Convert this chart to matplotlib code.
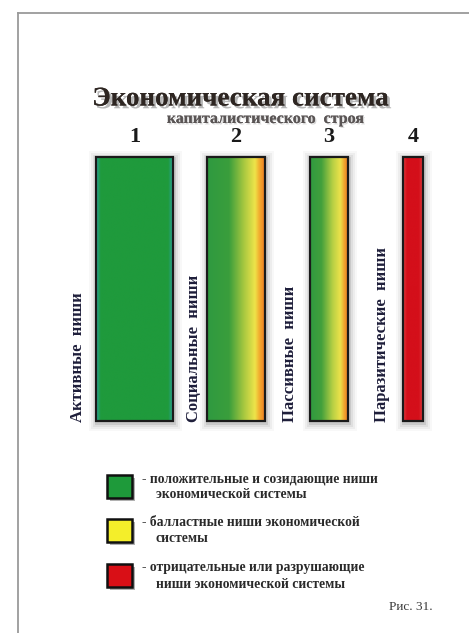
import numpy as np
import matplotlib
matplotlib.use("Agg")
import matplotlib.pyplot as plt
import matplotlib.patheffects as pe
from matplotlib.colors import LinearSegmentedColormap
from matplotlib.patches import Rectangle

# ---- data ----
numbers = ["1", "2", "3", "4"]
niche_labels = ["Активные  ниши", "Социальные  ниши", "Пассивные  ниши", "Паразитические  ниши"]
niche_widths = [77, 58, 38, 20]
niche_heights = [264, 264, 264, 264]
title = "Экономическая система"
subtitle = "капиталистического  строя"
legend_texts = [
    ["- положительные и созидающие ниши", "экономической системы"],
    ["- балластные ниши экономической", "системы"],
    ["- отрицательные или разрушающие", "ниши экономической системы"],
]
legend_colors = ["#1e9a3a", "#f4ee2a", "#d90f16"]
caption = "Рис. 31."

# gradient colour stops per bar (position, colour)
bar_gradients = [
    [(0.0, "#2aa39a"), (0.06, "#1f9a3c"), (0.94, "#1f9a3c"), (1.0, "#2aa39a")],
    [(0.0, "#2f9a40"), (0.38, "#3a9e3c"), (0.64, "#a8c840"), (0.83, "#eee44a"), (0.9, "#f2b030"), (1.0, "#ee7a20")],
    [(0.0, "#2f9a40"), (0.3, "#42a03c"), (0.6, "#b8d044"), (0.8, "#ece24a"), (0.9, "#f0a830"), (1.0, "#ee7a20")],
    [(0.0, "#e04040"), (0.2, "#d40f1a"), (0.8, "#d40f1a"), (1.0, "#e04040")],
]

W, H = 469, 633
fig = plt.figure(figsize=(W / 100, H / 100), dpi=100)
ax = fig.add_axes([0, 0, 1, 1])
ax.set_xlim(0, W)
ax.set_ylim(H, 0)
ax.axis("off")

serif = ["Liberation Serif", "DejaVu Serif"]

# frame
ax.plot([17.5, 17.5], [H, 12.5], color="#9a9a9a", lw=1.3)
ax.plot([17.5, W], [12.5, 12.5], color="#9a9a9a", lw=1.3)

# title with shadow
shadow = [pe.withSimplePatchShadow(offset=(2, -2), shadow_rgbFace="#888888", alpha=0.6), pe.Normal()]
ax.text(241, 99, title, ha="center", va="center", fontsize=19.5,
        fontweight="bold", family=serif, color="#2e2622", path_effects=shadow)
ax.text(266, 119, subtitle, ha="center", va="center", fontsize=11.5,
        fontweight="bold", family=serif, color="#5a5555",
        path_effects=[pe.withSimplePatchShadow(offset=(1, -1), shadow_rgbFace="#bbbbbb", alpha=0.6), pe.Normal()])

centres = [134.5, 236, 329, 413]
top = 157
label_x = [78, 194, 290, 382]

for i, (c, w, h) in enumerate(zip(centres, niche_widths, niche_heights)):
    # soft shadow
    for pad, a in [(8, 0.03), (6, 0.05), (4, 0.07), (2, 0.12)]:
        ax.add_patch(Rectangle((c - w / 2 - pad + 1, top - pad + 2), w + 2 * pad, h + 2 * pad,
                               facecolor="#303030", edgecolor="none", alpha=a, zorder=1))
    bars = ax.bar(c, h, width=w, bottom=top, color="none", edgecolor="none", zorder=2)
    patch = bars[0]
    cmap = LinearSegmentedColormap.from_list(f"g{i}", bar_gradients[i])
    grad = np.linspace(0, 1, 256).reshape(1, -1)
    im = ax.imshow(grad, cmap=cmap, aspect="auto",
                   extent=(c - w / 2, c + w / 2, top + h, top), zorder=3, interpolation="bilinear")
    im.set_clip_path(patch)
    ax.add_patch(Rectangle((c - w / 2, top), w, h, facecolor="none",
                           edgecolor="#1a1a1a", lw=1.6, zorder=4))
    ax.text(c, 137, numbers[i], ha="center", va="center", fontsize=16,
            fontweight="bold", family=serif, color="#1a1a1a")
    ax.text(label_x[i], top + h + 1, niche_labels[i], rotation=90, ha="center", va="bottom",
            fontsize=12, fontweight="bold", family=serif, color="#1e1e3a")

ax.set_xlim(0, W)
ax.set_ylim(H, 0)

# legend
leg_y = [475, 519, 564]
for y0, col, txt in zip(leg_y, legend_colors, legend_texts):
    ax.add_patch(Rectangle((110, y0 + 3), 25, 23, facecolor="#202020", edgecolor="none", alpha=0.35, zorder=2))
    ax.add_patch(Rectangle((107, y0), 25, 23, facecolor=col, edgecolor="#101010", lw=1.8, zorder=3))
    ax.text(142, y0 + 4, txt[0], ha="left", va="center", fontsize=9.8,
            fontweight="bold", family=serif, color="#2a2a2a")
    ax.text(156, y0 + 20, txt[1], ha="left", va="center", fontsize=9.8,
            fontweight="bold", family=serif, color="#2a2a2a")

ax.text(433, 607, caption, ha="right", va="center", fontsize=9.5, family=serif, color="#3a3a3a")

fig.savefig("out.png", dpi=100, facecolor="white")
